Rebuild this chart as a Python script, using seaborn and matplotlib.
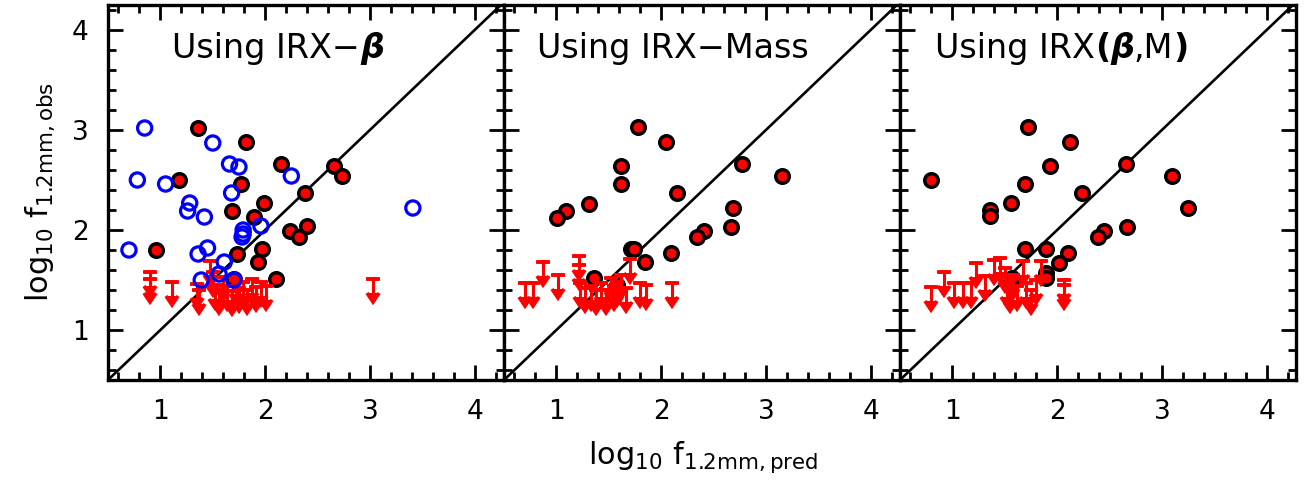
import numpy as np
import pandas as pd
import matplotlib
matplotlib.use("Agg")
import matplotlib.pyplot as plt
from matplotlib.ticker import MultipleLocator
import seaborn as sns

sns.set_style("ticks")
plt.rcParams["font.family"] = ["DejaVu Sans"]
plt.rcParams["mathtext.fontset"] = "dejavusans"
for key in ("text.color", "axes.labelcolor", "xtick.color", "ytick.color",
            "axes.edgecolor"):
    plt.rcParams[key] = "black"

# ---- IRX-beta panel -------------------------------------------------------
beta_det_x = [1.36, 1.82, 2.15, 1.18, 1.77, 2.38, 1.99, 1.68, 1.89, 2.24,
              2.32, 2.40, 0.96, 1.97, 1.73, 1.93, 2.10, 2.66, 2.73, 1.70]
beta_det_y = [3.02, 2.88, 2.66, 2.50, 2.46, 2.37, 2.27, 2.19, 2.13, 1.99,
              1.93, 2.04, 1.80, 1.81, 1.76, 1.68, 1.51, 2.64, 2.54, 1.51]
beta_alt_x = [0.85, 1.50, 0.78, 1.05, 1.66, 1.75, 2.25, 1.68, 1.28, 1.26, 1.42, 1.96,
              1.79, 1.79, 1.78, 0.70, 1.45, 1.36, 1.61, 1.56, 1.39, 1.70, 3.41]
beta_alt_y = [3.02, 2.87, 2.50, 2.46, 2.66, 2.63, 2.54, 2.37, 2.27, 2.19, 2.13, 2.04,
              2.00, 1.96, 1.93, 1.80, 1.82, 1.76, 1.68, 1.56, 1.50, 1.50, 2.22]
beta_lim_x = [0.90, 0.90, 1.11, 1.35, 1.37, 1.47, 1.50, 1.52, 1.56, 1.60, 1.64,
              1.68, 1.72, 1.75, 1.79, 1.83, 1.87, 1.91, 1.96, 2.01, 3.03]
beta_lim_y = [1.58, 1.51, 1.48, 1.46, 1.40, 1.69, 1.58, 1.45, 1.40, 1.53, 1.44,
              1.39, 1.50, 1.42, 1.48, 1.40, 1.51, 1.43, 1.48, 1.44, 1.51]

# ---- IRX-Mass panel -------------------------------------------------------
mass_det_x = [1.78, 2.05, 1.62, 1.62, 2.77, 3.15, 2.15, 1.31, 1.09, 1.01,
              2.69, 2.67, 2.41, 2.34, 1.71, 1.74, 2.09, 1.85, 1.36, 1.58]
mass_det_y = [3.03, 2.88, 2.64, 2.46, 2.66, 2.54, 2.37, 2.26, 2.19, 2.12,
              2.22, 2.03, 1.99, 1.93, 1.81, 1.81, 1.77, 1.68, 1.52, 1.45]
mass_lim_x = [0.70, 0.78, 0.87, 1.02, 1.22, 1.22, 1.23, 1.27, 1.33, 1.38, 1.43,
              1.47, 1.52, 1.55, 1.58, 1.62, 1.66, 1.70, 1.80, 1.86, 2.10]
mass_lim_y = [1.47, 1.47, 1.68, 1.55, 1.74, 1.65, 1.47, 1.42, 1.44, 1.40, 1.47,
              1.40, 1.52, 1.44, 1.48, 1.55, 1.42, 1.71, 1.47, 1.45, 1.47]

# ---- IRX(beta, M) panel ---------------------------------------------------
bm_det_x = [1.72, 2.12, 1.93, 2.66, 3.10, 0.80, 1.69, 2.24, 1.56, 1.36, 1.36,
            3.25, 2.67, 2.45, 2.39, 1.69, 1.89, 2.10, 2.02, 1.89, 1.89, 1.57]
bm_det_y = [3.03, 2.88, 2.64, 2.66, 2.54, 2.50, 2.46, 2.37, 2.27, 2.20, 2.14,
            2.22, 2.03, 1.99, 1.93, 1.81, 1.81, 1.77, 1.67, 1.57, 1.52, 1.52]
bm_lim_x = [0.80, 0.92, 1.02, 1.10, 1.18, 1.23, 1.31, 1.40, 1.45, 1.50, 1.52,
            1.55, 1.58, 1.62, 1.67, 1.70, 1.75, 1.80, 1.85, 2.07, 2.07]
bm_lim_y = [1.43, 1.58, 1.47, 1.47, 1.47, 1.67, 1.54, 1.70, 1.72, 1.62, 1.47,
            1.42, 1.55, 1.44, 1.69, 1.47, 1.40, 1.50, 1.69, 1.50, 1.45]

tick_values = [1, 2, 3, 4]
tick_labels = ["1", "2", "3", "4"]

# title pieces: (text, bold, italic)
titles = [
    [("Using IRX\u2212", False, False), ("\u03b2", True, True)],
    [("Using IRX\u2212Mass", False, False)],
    [("Using IRX", False, False), ("(", True, False), ("\u03b2", True, True),
     (",M", False, False), (")", True, False)],
]
title_x = [0.162, 0.083, 0.088]

panels = [
    (beta_det_x, beta_det_y, beta_lim_x, beta_lim_y, beta_alt_x, beta_alt_y),
    (mass_det_x, mass_det_y, mass_lim_x, mass_lim_y, None, None),
    (bm_det_x, bm_det_y, bm_lim_x, bm_lim_y, None, None),
]

W, H = 1305, 482
fig = plt.figure(figsize=(W / 100, H / 100), dpi=100)
left0, pw = 108 / W, 396 / W
bottom, ph = 102 / H, 375 / H

for i, (dx, dy, lx, ly, ax_x, ax_y) in enumerate(panels):
    ax = fig.add_axes([left0 + i * pw, bottom, pw, ph])
    ax.set_xlim(0.5, 4.28)
    ax.set_ylim(0.5, 4.25)

    # one-to-one line
    ax.plot([0, 5], [0, 5], color="black", lw=1.9, zorder=1)

    det = pd.DataFrame({"pred": dx, "obs": dy})
    sns.scatterplot(data=det, x="pred", y="obs", ax=ax, color="red",
                    edgecolor="black", linewidth=2.5, s=95, zorder=3,
                    legend=False)

    ax.errorbar(lx, ly, yerr=0.14, uplims=True, fmt="_", ms=10.5, mew=2.6,
                color="red", ecolor="red", elinewidth=2.2, capsize=4.2,
                ls="none", zorder=4)

    if ax_x is not None:
        alt = pd.DataFrame({"pred": ax_x, "obs": ax_y})
        sns.scatterplot(data=alt, x="pred", y="obs", ax=ax, color="blue",
                        linewidth=2.3, s=105, zorder=5, legend=False)
        coll = ax.collections[-1]
        coll.set_facecolor("none")
        coll.set_edgecolor("blue")

    ax.xaxis.set_minor_locator(MultipleLocator(0.2))
    ax.yaxis.set_minor_locator(MultipleLocator(0.2))
    ax.set_xticks(tick_values, tick_labels)
    ax.set_yticks(tick_values, tick_labels)
    ax.tick_params(which="both", direction="in", top=True, right=True,
                   width=2.0, labelsize=19, pad=14, color="black",
                   labelcolor="black")
    ax.tick_params(which="major", length=11)
    ax.tick_params(which="minor", length=6)
    if i > 0:
        ax.tick_params(labelleft=False)
    for sp in ax.spines.values():
        sp.set_linewidth(2.4)
        sp.set_color("black")
        sp.set_visible(True)
    ax.set_xlabel("")
    ax.set_ylabel("")

    # panel heading, built from pieces with mixed weight / style
    prev = None
    for text, bold, italic in titles[i]:
        kw = dict(fontsize=24, fontweight="bold" if bold else "normal",
                  fontstyle="italic" if italic else "normal", zorder=6,
                  color="black")
        if prev is None:
            prev = ax.text(title_x[i], 0.885, text, transform=ax.transAxes,
                           ha="left", va="center", **kw)
        else:
            prev = ax.annotate(text, xy=(1, 0), xycoords=prev,
                               ha="left", va="bottom", **kw)

fig.text(40 / W, 1 - 192 / H,
         r"$\mathrm{log}_{10}\ \mathrm{f}_{1.2\mathrm{mm,obs}}$",
         rotation=90, ha="center", va="center", fontsize=22, color="black")
fig.text(703 / W, 1 - 457 / H,
         r"$\mathrm{log}_{10}\ \mathrm{f}_{1.2\mathrm{mm,pred}}$",
         ha="center", va="center", fontsize=22, color="black")

fig.savefig("out.png", dpi=100)
